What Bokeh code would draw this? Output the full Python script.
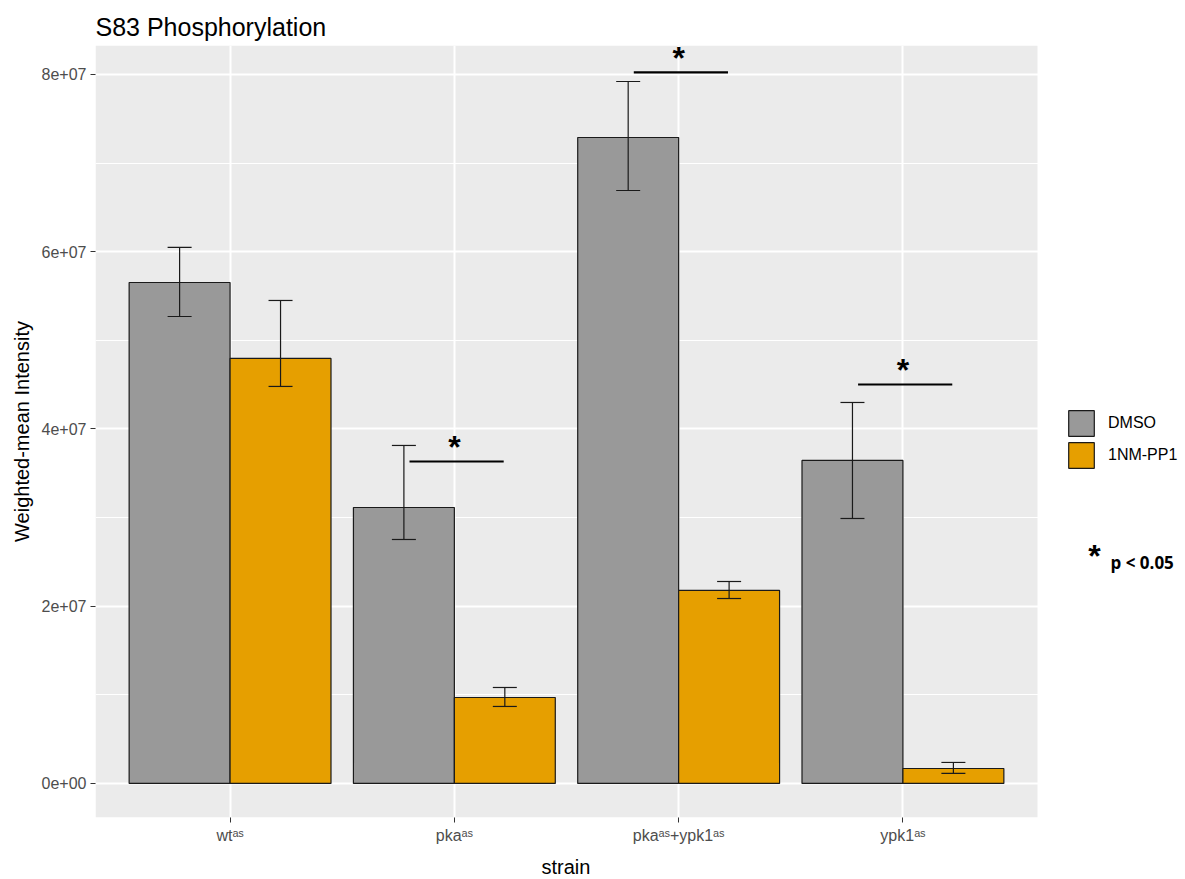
from bokeh.plotting import figure
from bokeh.models import (ColumnDataSource, Range1d, FixedTicker, Whisker, TeeHead,
                          Legend, LegendItem, Label, Title)
from bokeh.core.properties import value
from bokeh.embed import file_html
from bokeh.resources import INLINE

# ---- data ----
strains = ["wt\u1d43\u02e2", "pka\u1d43\u02e2", "pka\u1d43\u02e2+ypk1\u1d43\u02e2", "ypk1\u1d43\u02e2"]
treatments = ["DMSO", "1NM-PP1"]
dmso_mean = [5.653e7, 3.114e7, 7.289e7, 3.645e7]
dmso_upper = [6.048e7, 3.814e7, 7.921e7, 4.299e7]
dmso_lower = [5.269e7, 2.753e7, 6.691e7, 2.990e7]
nm_mean = [4.796e7, 0.970e7, 2.178e7, 0.169e7]
nm_upper = [5.450e7, 1.083e7, 2.279e7, 0.237e7]
nm_lower = [4.480e7, 0.869e7, 2.087e7, 0.113e7]
sig_index = [1, 2, 3]
sig_y = [3.633e7, 8.023e7, 4.502e7]
y_ticks = [0, 2e7, 4e7, 6e7, 8e7]
y_minor = [1e7, 3e7, 5e7, 7e7]
y_tick_labels = ["0e+00", "2e+07", "4e+07", "6e+07", "8e+07"]
colors = ["#999999", "#E69F00"]

FONT = "Liberation Sans"
pos = [i + 1 for i in range(len(strains))]
bw = 0.45

# panel (grey area) extents in data units; frame extends further right for the legend
X0, X1 = 0.4, 4.6
Y0, Y1 = -0.384e7, 8.327e7
PANEL_W = 942
FRAME_W = 1088
x_end = X0 + (X1 - X0) * FRAME_W / PANEL_W

src_d = ColumnDataSource(dict(x=[p_ - bw / 2 for p_ in pos], top=dmso_mean,
                              upper=dmso_upper, lower=dmso_lower))
src_n = ColumnDataSource(dict(x=[p_ + bw / 2 for p_ in pos], top=nm_mean,
                              upper=nm_upper, lower=nm_lower))

p = figure(frame_width=FRAME_W, frame_height=772,
           min_border_left=95, min_border_right=0, min_border_top=45, min_border_bottom=10,
           x_range=Range1d(X0, x_end), y_range=Range1d(Y0, Y1),
           output_backend="svg", toolbar_location=None,
           background_fill_color="white", border_fill_color="white",
           outline_line_color=None, title="S83 Phosphorylation")

p.title.text_font = FONT
p.title.text_font_size = "25px"
p.title.text_font_style = "normal"
p.title.text_color = "black"
p.title.align = "left"
p.title.standoff = 9

# grey panel background
p.quad(left=[X0], right=[X1], bottom=[Y0], top=[Y1], fill_color="#EBEBEB",
       line_color=None, level="image")

# grids
p.ygrid.ticker = FixedTicker(ticks=y_ticks, minor_ticks=y_minor)
p.ygrid.grid_line_color = "white"
p.ygrid.grid_line_width = 2
p.ygrid.minor_grid_line_color = "white"
p.ygrid.minor_grid_line_width = 1
p.xgrid.ticker = FixedTicker(ticks=pos)
p.xgrid.grid_line_color = "white"
p.xgrid.grid_line_width = 2

# axes
p.xaxis.ticker = FixedTicker(ticks=pos)
p.xaxis.major_label_overrides = {k: s for k, s in zip(pos, strains)}
p.yaxis.ticker = FixedTicker(ticks=y_ticks)
p.yaxis.major_label_overrides = {k: s for k, s in zip(y_ticks, y_tick_labels)}
for ax in (p.xaxis, p.yaxis):
    ax.axis_line_color = None
    ax.major_tick_line_color = "#333333"
    ax.major_tick_in = 0
    ax.major_tick_out = 5
    ax.minor_tick_line_color = None
    ax.major_label_text_font = FONT
    ax.major_label_text_font_size = "16px"
    ax.major_label_text_color = "#4D4D4D"
    ax.axis_label_text_font = FONT
    ax.axis_label_text_font_size = "20px"
    ax.axis_label_text_font_style = "normal"
    ax.axis_label_text_color = "black"
p.yaxis.axis_label = "Weighted-mean Intensity"
p.xaxis.major_label_standoff = 4
p.yaxis.major_label_standoff = 4
p.yaxis.axis_label_standoff = 6

# x-axis title centred under the grey panel
p.add_layout(Title(text="strain", align="left", offset=(X1 - X0) / 2 / (x_end - X0) * FRAME_W - 25,
                   text_font=FONT, text_font_size="20px", text_font_style="normal",
                   text_color="black", standoff=14), "below")

# bars
r_d = p.vbar(x="x", top="top", bottom=0, width=bw, source=src_d,
             fill_color=colors[0], line_color="#1a1a1a", line_width=1.2)
r_n = p.vbar(x="x", top="top", bottom=0, width=bw, source=src_n,
             fill_color=colors[1], line_color="#1a1a1a", line_width=1.2)

# error bars
for src in (src_d, src_n):
    w = Whisker(source=src, base="x", upper="upper", lower="lower", dimension="height",
                line_color="#1a1a1a", line_width=1.2, level="overlay",
                upper_head=TeeHead(size=24, line_color="#1a1a1a", line_width=1.2),
                lower_head=TeeHead(size=24, line_color="#1a1a1a", line_width=1.2))
    p.add_layout(w)

# significance markers
sig_src = ColumnDataSource(dict(
    x0=[pos[i] - 0.2 for i in sig_index],
    x1=[pos[i] + 0.22 for i in sig_index],
    xc=[pos[i] for i in sig_index],
    y=sig_y,
    t=["*"] * len(sig_index)))
p.segment(x0="x0", y0="y", x1="x1", y1="y", source=sig_src, line_color="black", line_width=2.2)
p.text(x="xc", y="y", text="t", source=sig_src, text_font=value(FONT), text_font_size="32px",
       text_font_style="bold", text_align="center", text_baseline="alphabetic",
       y_offset=-14, text_color="black")

# legend
legend = Legend(items=[LegendItem(label=treatments[0], renderers=[r_d]),
                       LegendItem(label=treatments[1], renderers=[r_n])],
                location=(970, 346), glyph_width=32, glyph_height=32, spacing=0,
                label_standoff=11, padding=0, margin=0, border_line_color=None,
                background_fill_alpha=0, label_text_font=FONT, label_text_font_size="16px",
                label_text_color="black")
p.add_layout(legend)

p.add_layout(Label(x=999, y=262, x_units="screen", y_units="screen", text="*",
                   text_font=FONT, text_font_size="32px", text_font_style="bold",
                   text_align="center", text_baseline="alphabetic", text_color="black"))
p.add_layout(Label(x=1015, y=255, x_units="screen", y_units="screen", text="p < 0.05",
                   text_font="Open Sans", text_font_size="17px", text_font_style="bold",
                   text_align="left", text_baseline="alphabetic", text_color="black"))

open("out.html", "w").write(file_html(p, INLINE))
